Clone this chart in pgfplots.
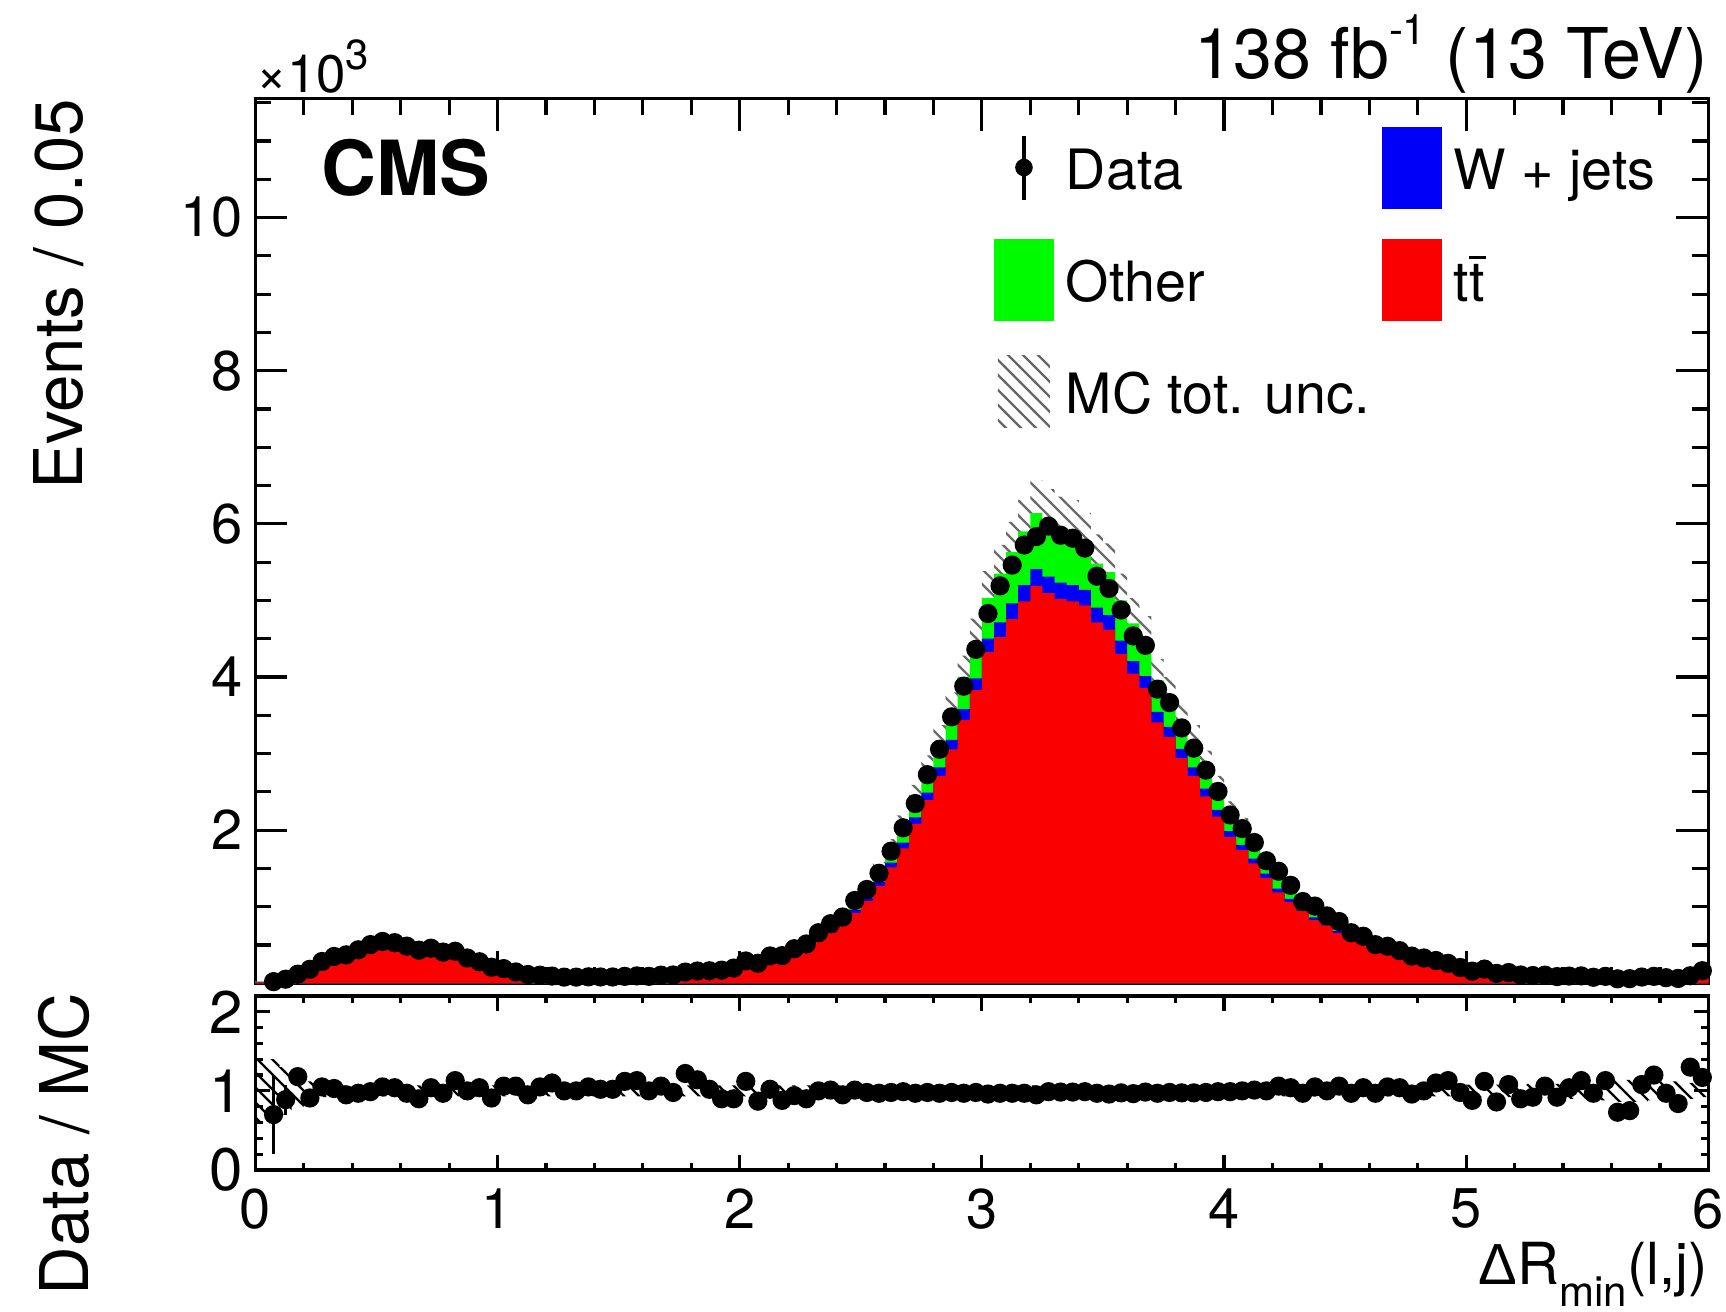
\documentclass[border=0pt]{standalone}
\usepackage{fontspec}
\setmainfont{TeX Gyre Heros}
\newfontfamily\libsans{Liberation Sans}
\usepackage{pgfplots}
\usepackage{pgfplotstable}
\pgfplotsset{compat=1.18}
\usepgfplotslibrary{fillbetween}
\usetikzlibrary{patterns}
\definecolor{rootred}{RGB}{250,0,0}
\definecolor{rootgreen}{RGB}{0,250,0}
\definecolor{rootblue}{RGB}{0,0,250}

\pgfdeclarepatternformonly{rootnw}{\pgfqpoint{-1pt}{-1pt}}{\pgfqpoint{4.75pt}{4.75pt}}{\pgfqpoint{3.75pt}{3.75pt}}{
  \pgfsetlinewidth{0.6pt}
  \pgfpathmoveto{\pgfqpoint{-0.1pt}{3.85pt}}
  \pgfpathlineto{\pgfqpoint{3.85pt}{-0.1pt}}
  \pgfusepath{stroke}
}

% MC stack (thousands of events), bin left edges; last row closes the last bin
\pgfplotstableread{
x tt wj oth u
0.00 0.017 0.001 0.002 0.40
0.05 0.026 0.001 0.003 0.40
0.10 0.052 0.002 0.006 0.30
0.15 0.086 0.004 0.010 0.20
0.20 0.172 0.007 0.021 0.12
0.25 0.232 0.009 0.029 0.08
0.30 0.292 0.012 0.036 0.07
0.35 0.335 0.014 0.041 0.07
0.40 0.387 0.016 0.047 0.07
0.45 0.439 0.018 0.053 0.07
0.50 0.447 0.018 0.055 0.07
0.55 0.439 0.018 0.053 0.07
0.60 0.430 0.018 0.052 0.07
0.65 0.413 0.017 0.050 0.07
0.70 0.378 0.015 0.047 0.07
0.75 0.361 0.015 0.044 0.07
0.80 0.318 0.013 0.039 0.07
0.85 0.284 0.012 0.034 0.07
0.90 0.232 0.009 0.029 0.07
0.95 0.198 0.008 0.024 0.07
1.00 0.155 0.006 0.019 0.07
1.05 0.120 0.005 0.015 0.07
1.10 0.103 0.004 0.013 0.07
1.15 0.086 0.004 0.010 0.07
1.20 0.073 0.003 0.009 0.07
1.25 0.069 0.003 0.008 0.07
1.30 0.069 0.003 0.008 0.07
1.35 0.069 0.003 0.008 0.07
1.40 0.069 0.003 0.008 0.07
1.45 0.069 0.003 0.008 0.07
1.50 0.069 0.003 0.008 0.07
1.55 0.073 0.003 0.009 0.07
1.60 0.077 0.003 0.010 0.07
1.65 0.086 0.004 0.010 0.07
1.70 0.095 0.004 0.011 0.07
1.75 0.103 0.004 0.013 0.07
1.80 0.120 0.005 0.015 0.07
1.85 0.138 0.006 0.016 0.07
1.90 0.163 0.007 0.020 0.07
1.95 0.189 0.008 0.023 0.07
2.00 0.224 0.009 0.027 0.07
2.05 0.258 0.011 0.031 0.07
2.10 0.301 0.012 0.037 0.07
2.15 0.353 0.014 0.043 0.07
2.20 0.413 0.017 0.050 0.07
2.25 0.490 0.020 0.060 0.07
2.30 0.568 0.023 0.069 0.07
2.35 0.662 0.027 0.081 0.07
2.40 0.783 0.032 0.095 0.07
2.45 0.920 0.037 0.113 0.07
2.50 1.075 0.044 0.131 0.07
2.55 1.273 0.052 0.155 0.07
2.60 1.514 0.062 0.184 0.07
2.65 1.763 0.072 0.215 0.07
2.70 2.081 0.085 0.254 0.07
2.75 2.391 0.097 0.292 0.07
2.80 2.709 0.110 0.331 0.07
2.85 3.053 0.124 0.373 0.07
2.90 3.440 0.140 0.420 0.07
2.95 3.827 0.156 0.467 0.07
3.00 4.326 0.176 0.528 0.07
3.05 4.521 0.193 0.636 0.07
3.10 4.757 0.203 0.670 0.07
3.15 4.986 0.212 0.702 0.07
3.20 5.188 0.221 0.731 0.07
3.25 5.095 0.217 0.718 0.07
3.30 5.019 0.214 0.707 0.07
3.35 4.986 0.212 0.702 0.07
3.40 4.936 0.201 0.603 0.07
3.45 4.713 0.192 0.575 0.07
3.50 4.618 0.188 0.564 0.07
3.55 4.300 0.175 0.525 0.07
3.60 4.042 0.165 0.493 0.07
3.65 3.853 0.157 0.470 0.07
3.70 3.406 0.139 0.415 0.07
3.75 3.216 0.131 0.393 0.07
3.80 2.941 0.120 0.359 0.07
3.85 2.709 0.110 0.331 0.07
3.90 2.442 0.099 0.299 0.07
3.95 2.176 0.089 0.265 0.07
4.00 1.909 0.078 0.233 0.07
4.05 1.737 0.071 0.212 0.07
4.10 1.565 0.064 0.191 0.07
4.15 1.376 0.056 0.168 0.07
4.20 1.187 0.048 0.145 0.07
4.25 1.058 0.043 0.129 0.07
4.30 0.946 0.039 0.115 0.07
4.35 0.826 0.034 0.100 0.07
4.40 0.757 0.031 0.092 0.07
4.45 0.654 0.027 0.079 0.07
4.50 0.585 0.024 0.071 0.07
4.55 0.507 0.021 0.062 0.07
4.60 0.447 0.018 0.055 0.07
4.65 0.396 0.016 0.048 0.07
4.70 0.353 0.014 0.043 0.07
4.75 0.318 0.013 0.039 0.07
4.80 0.284 0.012 0.034 0.07
4.85 0.232 0.009 0.029 0.07
4.90 0.198 0.008 0.024 0.07
4.95 0.181 0.007 0.022 0.07
5.00 0.155 0.006 0.019 0.08
5.05 0.142 0.006 0.017 0.08
5.10 0.129 0.005 0.016 0.08
5.15 0.112 0.005 0.013 0.08
5.20 0.103 0.004 0.013 0.08
5.25 0.095 0.004 0.011 0.09
5.30 0.086 0.004 0.010 0.09
5.35 0.082 0.003 0.010 0.09
5.40 0.077 0.003 0.010 0.10
5.45 0.073 0.003 0.009 0.10
5.50 0.069 0.003 0.008 0.12
5.55 0.069 0.003 0.008 0.12
5.60 0.069 0.003 0.008 0.14
5.65 0.069 0.003 0.008 0.14
5.70 0.065 0.003 0.007 0.14
5.75 0.065 0.003 0.007 0.12
5.80 0.065 0.003 0.007 0.12
5.85 0.065 0.003 0.007 0.12
5.90 0.065 0.003 0.007 0.10
5.95 0.120 0.005 0.015 0.08
6.00 0.120 0.005 0.015 0.08
}\mctable

% Data (thousands), ratio Data/MC and its error, at bin centres
\pgfplotstableread{
x d r e
0.075 0.021 0.70 0.50
0.125 0.053 0.89 0.19
0.175 0.118 1.18 0.10
0.225 0.182 0.91 0.07
0.275 0.284 1.05 0.05
0.325 0.350 1.03 0.04
0.375 0.371 0.95 0.04
0.425 0.437 0.97 0.04
0.475 0.505 0.99 0.03
0.525 0.546 1.05 0.03
0.575 0.530 1.04 0.03
0.625 0.485 0.97 0.03
0.675 0.432 0.90 0.03
0.725 0.458 1.04 0.03
0.775 0.407 0.97 0.03
0.825 0.418 1.13 0.03
0.875 0.330 1.00 0.04
0.925 0.281 1.04 0.04
0.975 0.209 0.91 0.04
1.025 0.191 1.06 0.05
1.075 0.148 1.06 0.05
1.125 0.114 0.95 0.06
1.175 0.105 1.05 0.06
1.225 0.094 1.10 0.07
1.275 0.080 1.00 0.07
1.325 0.080 1.00 0.07
1.375 0.084 1.05 0.07
1.425 0.082 1.02 0.07
1.475 0.082 1.02 0.07
1.525 0.090 1.12 0.07
1.575 0.096 1.13 0.07
1.625 0.090 1.00 0.07
1.675 0.106 1.06 0.06
1.725 0.108 0.98 0.06
1.775 0.146 1.22 0.06
1.825 0.160 1.14 0.05
1.875 0.163 1.02 0.05
1.925 0.171 0.90 0.05
1.975 0.198 0.90 0.04
2.025 0.291 1.12 0.04
2.075 0.261 0.87 0.04
2.125 0.357 1.02 0.03
2.175 0.361 0.88 0.03
2.225 0.451 0.94 0.03
2.275 0.513 0.90 0.03
2.325 0.660 1.00 0.02
2.375 0.778 1.01 0.02
2.425 0.865 0.95 0.02
2.475 1.081 1.01 0.02
2.525 1.225 0.98 0.02
2.575 1.436 0.97 0.02
2.625 1.725 0.98 0.01
2.675 2.030 0.99 0.01
2.725 2.347 0.97 0.01
2.775 2.724 0.98 0.01
2.825 3.056 0.97 0.01
2.875 3.479 0.98 0.01
2.925 3.880 0.97 0.01
2.975 4.361 0.98 0.01
3.025 4.829 0.96 0.01
3.075 5.190 0.97 0.01
3.125 5.461 0.97 0.01
3.175 5.723 0.97 0.01
3.225 5.833 0.95 0.01
3.275 5.970 0.99 0.01
3.325 5.851 0.985 0.01
3.375 5.812 0.985 0.01
3.425 5.683 0.99 0.01
3.475 5.316 0.97 0.01
3.525 5.155 0.96 0.01
3.575 4.875 0.975 0.01
3.625 4.536 0.965 0.01
3.675 4.413 0.985 0.01
3.725 3.841 0.97 0.01
3.775 3.665 0.98 0.01
3.825 3.335 0.975 0.01
3.875 3.071 0.975 0.01
3.925 2.783 0.98 0.01
3.975 2.505 0.99 0.01
4.025 2.198 0.99 0.01
4.075 2.020 1.00 0.01
4.125 1.838 1.01 0.01
4.175 1.600 1.00 0.01
4.225 1.463 1.06 0.01
4.275 1.279 1.04 0.01
4.325 1.067 0.97 0.02
4.375 1.008 1.05 0.02
4.425 0.880 1.00 0.02
4.475 0.806 1.06 0.02
4.525 0.660 0.97 0.02
4.575 0.614 1.04 0.02
4.625 0.504 0.97 0.02
4.675 0.483 1.05 0.02
4.725 0.426 1.04 0.03
4.775 0.355 0.96 0.03
4.825 0.330 1.00 0.03
4.875 0.297 1.10 0.03
4.925 0.260 1.13 0.03
4.975 0.206 0.98 0.04
5.025 0.158 0.88 0.04
5.075 0.185 1.12 0.04
5.125 0.129 0.86 0.05
5.175 0.140 1.08 0.05
5.225 0.108 0.90 0.05
5.275 0.101 0.92 0.06
5.325 0.106 1.06 0.06
5.375 0.087 0.92 0.06
5.425 0.094 1.04 0.06
5.475 0.096 1.13 0.07
5.525 0.078 0.97 0.07
5.575 0.090 1.13 0.07
5.625 0.058 0.73 0.07
5.675 0.060 0.75 0.07
5.725 0.081 1.08 0.07
5.775 0.090 1.20 0.08
5.825 0.073 0.97 0.07
5.875 0.063 0.84 0.07
5.925 0.098 1.30 0.08
5.975 0.164 1.17 0.06
}\datatable

\pgfplotsset{
  rootaxis/.style={
    scale only axis, width=363.25pt, anchor=south west,
    xmin=0, xmax=6,
    axis line style={line width=0.8pt},
    every tick/.style={line width=0.8pt, black},
    tick align=inside,
    /pgf/number format/assume math mode=true,
    tick label style={font=\fontsize{14}{16}\selectfont},
    clip=true,
  },
}

\begin{document}
\begin{tikzpicture}

% ---------------- main panel ----------------
\begin{axis}[rootaxis,
  at={(63.85pt,82.18pt)}, height=221.1pt,
  ymin=0, ymax=11.55,
  xtick={0,1,...,6}, minor x tick num=4, xticklabels={},
  ytick={2,4,6,8,10}, minor ytick={0.5,1,...,11.5},
  major tick length=8pt, minor tick length=4pt,
  yticklabel style={inner sep=0pt, xshift=-3pt},
  legend columns=2,
  legend cell align=left,
  legend style={draw=none, fill=none, inner sep=0pt, outer sep=0pt,
    at={(0.5083,0.9687)}, anchor=north west,
    column sep=3pt, row sep=7.5pt,
    nodes={inner sep=0pt, outer sep=0pt},
    font=\fontsize{13.9}{17}\selectfont},
]
\addlegendimage{legend image code/.code={
  \path[draw=none, fill=none] (0pt,-10.25pt) rectangle (15pt,10.25pt);
  \draw[black, line width=1pt] (7.5pt,-8pt) -- (7.5pt,8pt);
  \fill[black, draw=none] (7.5pt,0pt) circle (2.2pt);}}
\addlegendentry{\raisebox{0pt}[12.6pt][0pt]{Data}}
\addlegendimage{legend image code/.code={\fill[rootblue, draw=none] (0pt,-10.25pt) rectangle (15pt,10.25pt);}}
\addlegendentry{\raisebox{0pt}[12.6pt][0pt]{W + jets}}
\addlegendimage{legend image code/.code={\fill[rootgreen, draw=none] (0pt,-10.25pt) rectangle (15pt,10.25pt);}}
\addlegendentry{\raisebox{0pt}[12.6pt][0pt]{Other}}
\addlegendimage{legend image code/.code={\fill[rootred, draw=none] (0pt,-10.25pt) rectangle (15pt,10.25pt);}}
\addlegendentry{\raisebox{0pt}[12.6pt][0pt]{t\makebox[0pt][l]{\raisebox{0.76em}{\rule{0.3em}{0.065em}}}t}}
\addlegendimage{legend image code/.code={
  \path[draw=none, fill=none] (0pt,-10.25pt) rectangle (15pt,10.25pt);
  \path[draw=none, pattern=rootnw, pattern color=black!60] (1pt,-9pt) rectangle (14pt,9pt);}}
\addlegendentry{\raisebox{0pt}[12.6pt][0pt]{MC tot. unc.}}

\addplot[const plot mark left, fill=rootgreen, draw=none, forget plot]
  table[x=x, y expr=\thisrow{tt}+\thisrow{wj}+\thisrow{oth}] {\mctable} \closedcycle;
\addplot[const plot mark left, fill=rootblue, draw=none, forget plot]
  table[x=x, y expr=\thisrow{tt}+\thisrow{wj}] {\mctable} \closedcycle;
\addplot[const plot mark left, fill=rootred, draw=none, forget plot]
  table[x=x, y=tt] {\mctable} \closedcycle;
\addplot[name path=mcup, const plot mark left, draw=none, forget plot]
  table[x=x, y expr=(\thisrow{tt}+\thisrow{wj}+\thisrow{oth})*(1+\thisrow{u})] {\mctable};
\addplot[name path=mclo, const plot mark left, draw=none, forget plot]
  table[x=x, y expr=(\thisrow{tt}+\thisrow{wj}+\thisrow{oth})*(1-\thisrow{u})] {\mctable};
\addplot[pattern=rootnw, pattern color=black!58, draw=none, forget plot] fill between[of=mcup and mclo];
\addplot[only marks, mark=*, mark size=2.2pt, black, forget plot]
  table[x=x, y=d] {\datatable};
\end{axis}

% ---------------- ratio panel ----------------
\begin{axis}[rootaxis,
  at={(63.85pt,35.5pt)}, height=43.5pt,
  ymin=0, ymax=2.2,
  xtick={0,1,...,6}, minor x tick num=4,
  ytick={0,1,2}, minor y tick num=4,
  major tick length=3.7pt, minor tick length=1.8pt,
  yticklabel style={inner sep=0pt, xshift=-3pt, font=\fontsize{15}{17}\selectfont},
  xticklabel style={inner sep=0pt, yshift=-4.5pt},
]
\addplot[name path=rup, const plot mark left, draw=none, forget plot]
  table[x=x, y expr=1+\thisrow{u}] {\mctable};
\addplot[name path=rlo, const plot mark left, draw=none, forget plot]
  table[x=x, y expr=1-\thisrow{u}] {\mctable};
\addplot[pattern=rootnw, pattern color=black, draw=none, forget plot]
  fill between[of=rup and rlo];
\addplot[only marks, mark=*, mark size=2.2pt, black,
  error bars/.cd, y dir=both, y explicit, error mark=none,
  error bar style={line width=0.9pt, black}]
  table[x=x, y=r, y error=e] {\datatable};
\end{axis}

% ---------------- texts ----------------
\node[anchor=base east, inner sep=0pt, font=\fontsize{17.5}{20}\selectfont] at (427.1pt,308.25pt)
  {138 fb\raisebox{8.5pt}{\fontsize{10.5}{11}\selectfont -1} (13 TeV)};
\node[anchor=base west, inner sep=0pt, font=\fontsize{13.2}{15}\selectfont] at (63.85pt,304.8pt)
  {×10\raisebox{5.7pt}{\fontsize{10.5}{11}\selectfont 3}};
\node[anchor=base west, inner sep=0pt, font=\fontsize{19}{22}\selectfont\bfseries] at (80.25pt,279pt) {CMS};
\node[rotate=90, anchor=base east, inner sep=0pt, font=\fontsize{16.8}{20}\selectfont] at (20.6pt,303.5pt) {Events / 0.05};
\node[rotate=90, anchor=base east, inner sep=0pt, font=\fontsize{16.8}{20}\selectfont] at (22pt,80pt) {Data / MC};
\node[anchor=base east, inner sep=0pt, font=\fontsize{14.5}{17}\selectfont] at (427.1pt,6.75pt)
  {{\libsans Δ}R\raisebox{-5.5pt}{\fontsize{10.5}{11}\selectfont min}(l,j)};

\pgfresetboundingbox
\path[use as bounding box] (0,0) rectangle (431.5pt,328pt);
\end{tikzpicture}
\end{document}
